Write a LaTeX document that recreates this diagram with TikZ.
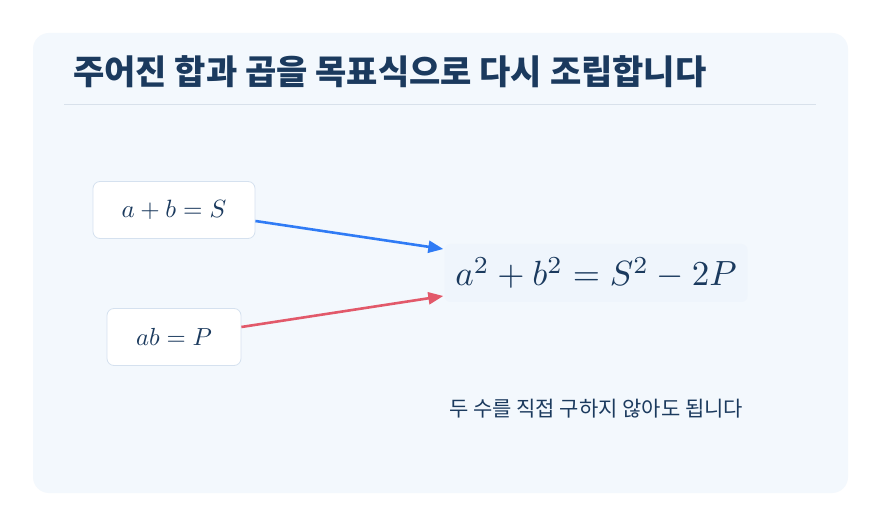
\documentclass[tikz,border=0pt]{standalone}
\usepackage{graphicx}
\usepackage[no-math]{fontspec}
\newfontfamily\kr{Noto Sans CJK KR}
\usetikzlibrary{arrows.meta}
\definecolor{navy}{HTML}{1B3A5E}
\definecolor{panelbg}{HTML}{F3F8FD}
\definecolor{eqbg}{HTML}{EFF5FC}
\definecolor{boxline}{HTML}{D5E1EF}
\definecolor{rulecol}{HTML}{D8E1EB}
\definecolor{sumblue}{HTML}{2F7BF5}
\definecolor{prodred}{HTML}{E2596A}
\newcommand{\bigmath}[2]{\scalebox{#1}{$#2$}}
\tikzset{
  given/.style={draw=boxline,fill=white,rounded corners=7pt,line width=0.8pt,
    minimum height=57pt,text=navy},
  feed/.style={line width=2.6pt,-{Triangle[length=15pt,width=12pt]}}
}
\begin{document}
\begin{tikzpicture}[x=1pt,y=-1pt]
\useasboundingbox (0,0) rectangle (881,526);
\fill[white] (0,0) rectangle (881,526);

%panel
\fill[panelbg,rounded corners=16pt] (33,33) rectangle (848,493);

%title
\node[anchor=west,inner sep=0pt,text=navy,font=\kr\bfseries\fontsize{34}{38}\selectfont] (title) at (73,72) {주어진 합과 곱을 목표식으로 다시 조립합니다};
\draw[rulecol,line width=0.8pt] (64,104) -- (816,104);

%given boxes
\node[given,minimum width=162pt] (sum) at (174,210) {\bigmath{2.5}{a+b=S}};
\node[given,minimum width=134pt] (prod) at (174,337) {\bigmath{2.47}{ab=P}};

%target
\node[fill=eqbg,rounded corners=6pt,minimum width=303pt,minimum height=58pt,text=navy] (goal) at (596,273) {\bigmath{3.5}{a^2+b^2=S^2-2P}};

%arrows
\draw[feed,sumblue] ([yshift=-11pt]sum.east) -- ([yshift=24pt,xshift=-1pt]goal.west);
\draw[feed,prodred] ([yshift=10pt]prod.east) -- ([yshift=-23pt,xshift=-1pt]goal.west);

\node[text=navy,font=\kr\fontsize{21}{24}\selectfont] (note) at (596,409) {두 수를 직접 구하지 않아도 됩니다};
\end{tikzpicture}
\end{document}
